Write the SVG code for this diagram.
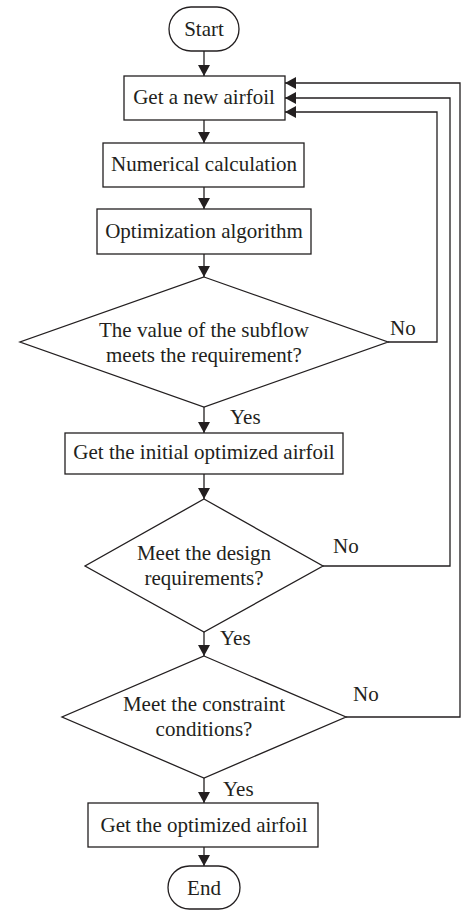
<svg xmlns="http://www.w3.org/2000/svg" width="461" height="910" viewBox="0 0 461 910">
<style>
.shape{fill:#fff;stroke:#231f20;stroke-width:1.3}
.t{font-family:"Liberation Serif","Times New Roman",serif;font-size:21px;fill:#231f20;text-anchor:middle}
.lbl{font-family:"Liberation Serif","Times New Roman",serif;font-size:21px;fill:#231f20}
.c{fill:none;stroke:#231f20;stroke-width:1.3}
</style>
<defs>
<marker id="ah" viewBox="0 0 11 12" refX="11" refY="6" markerWidth="11" markerHeight="12" orient="auto" markerUnits="userSpaceOnUse">
<path d="M0,0 L11,6 L0,12 z" fill="#231f20"/>
</marker>
</defs>
<g id="connectors">
<path class="c" d="M204,51 V76" marker-end="url(#ah)"/>
<path class="c" d="M204,120 V143" marker-end="url(#ah)"/>
<path class="c" d="M204,187 V209" marker-end="url(#ah)"/>
<path class="c" d="M204,254 V277" marker-end="url(#ah)"/>
<path class="c" d="M204,407 V433" marker-end="url(#ah)"/>
<path class="c" d="M388,342 H437 V112 H285" marker-end="url(#ah)"/>
<path class="c" d="M204,474 V499" marker-end="url(#ah)"/>
<path class="c" d="M323,566 H450 V98 H285" marker-end="url(#ah)"/>
<path class="c" d="M204,632 V656" marker-end="url(#ah)"/>
<path class="c" d="M346,717 H460 V83 H285" marker-end="url(#ah)"/>
<path class="c" d="M204,778 V803" marker-end="url(#ah)"/>
<path class="c" d="M204,847 V866" marker-end="url(#ah)"/>
<text class="lbl" x="390" y="335">No</text>
<text class="lbl" x="230" y="424">Yes</text>
<text class="lbl" x="333" y="553">No</text>
<text class="lbl" x="220" y="645">Yes</text>
<text class="lbl" x="353" y="701">No</text>
<text class="lbl" x="223" y="796">Yes</text>
</g>
<g id="start">
<rect class="shape" x="169" y="7" width="70" height="44" rx="22" ry="22"/>
<text class="t" x="204" y="36">Start</text>
</g>
<g id="new-airfoil">
<rect class="shape" x="124" y="76" width="161" height="44"/>
<text class="t" x="204" y="104">Get a new airfoil</text>
</g>
<g id="numerical">
<rect class="shape" x="103" y="143" width="201" height="44"/>
<text class="t" x="204" y="171">Numerical calculation</text>
</g>
<g id="optimization">
<rect class="shape" x="97" y="209" width="214" height="45"/>
<text class="t" x="204" y="238">Optimization algorithm</text>
</g>
<g id="decision-subflow">
<polygon class="shape" points="204,277 388,342 204,407 20,342"/>
<text class="t" x="204" y="337">The value of the subflow</text>
<text class="t" x="204" y="362">meets the requirement?</text>
</g>
<g id="initial-optimized">
<rect class="shape" x="65" y="433" width="278" height="41"/>
<text class="t" x="204" y="459">Get the initial optimized airfoil</text>
</g>
<g id="decision-design">
<polygon class="shape" points="204,499 323,566 204,632 85,566"/>
<text class="t" x="204" y="560">Meet the design</text>
<text class="t" x="204" y="585">requirements?</text>
</g>
<g id="decision-constraint">
<polygon class="shape" points="204,656 346,717 204,778 62,717"/>
<text class="t" x="204" y="711">Meet the constraint</text>
<text class="t" x="204" y="736">conditions?</text>
</g>
<g id="optimized">
<rect class="shape" x="88" y="803" width="230" height="44"/>
<text class="t" x="204" y="832">Get the optimized airfoil</text>
</g>
<g id="end">
<rect class="shape" x="168" y="866" width="72" height="43" rx="21.5" ry="21.5"/>
<text class="t" x="204" y="895">End</text>
</g>
</svg>
